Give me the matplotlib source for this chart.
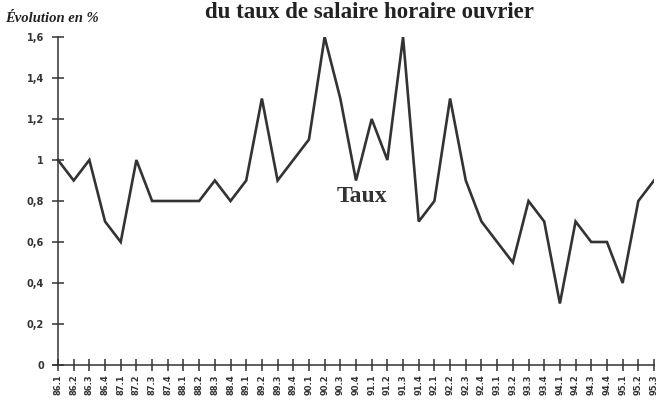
import matplotlib.pyplot as plt

# trimestres 86.1 -> 95.3
trimestres = ['86.1', '86.2', '86.3', '86.4', '87.1', '87.2', '87.3', '87.4',
              '88.1', '88.2', '88.3', '88.4', '89.1', '89.2', '89.3', '89.4',
              '90.1', '90.2', '90.3', '90.4', '91.1', '91.2', '91.3', '91.4',
              '92.1', '92.2', '92.3', '92.4', '93.1', '93.2', '93.3', '93.4',
              '94.1', '94.2', '94.3', '94.4', '95.1', '95.2', '95.3']

# evolution du taux de salaire horaire ouvrier (%)
taux = [1.0, 0.9, 1.0, 0.7, 0.6, 1.0, 0.8, 0.8,
        0.8, 0.8, 0.9, 0.8, 0.9, 1.3, 0.9, 1.0,
        1.1, 1.6, 1.3, 0.9, 1.2, 1.0, 1.6, 0.7,
        0.8, 1.3, 0.9, 0.7, 0.6, 0.5, 0.8, 0.7,
        0.3, 0.7, 0.6, 0.6, 0.4, 0.8, 0.9]

yticks = [0, 0.2, 0.4, 0.6, 0.8, 1.0, 1.2, 1.4, 1.6]
ylabels = ['0', '0,2', '0,4', '0,6', '0,8', '1', '1,2', '1,4', '1,6']

fig = plt.figure(figsize=(6.58, 4.01), dpi=100)
ax = fig.add_axes([52.5 / 658, 36 / 401, 601.5 / 658, 328 / 401])

x = range(len(taux))
ax.plot(x, taux, color='#333333', linewidth=1.9, solid_joinstyle='miter')

ax.set_xlim(-0.35, len(taux) - 1)
ax.set_ylim(0, 1.6)
ax.spines['left'].set_position(('data', 0))
ax.spines['right'].set_visible(False)
ax.spines['top'].set_visible(False)
ax.spines['left'].set_color('#333333')
ax.spines['bottom'].set_color('#333333')
ax.spines['left'].set_linewidth(1.1)
ax.spines['bottom'].set_linewidth(1.1)

ax.set_xticks(list(x))
ax.set_xticklabels(trimestres, rotation=90, fontsize=6, fontweight='bold', color='#333333')
ax.set_yticks(yticks)
ax.set_yticklabels(ylabels, fontsize=7, fontweight='bold', color='#333333')
ax.tick_params(axis='both', direction='inout', length=8, width=1.1, color='#333333')
ax.tick_params(axis='y', pad=6)
ax.tick_params(axis='x', pad=3)

fig.text(369 / 658, 1 - 12 / 401, 'du taux de salaire horaire ouvrier',
         ha='center', va='center', fontsize=16.5, fontweight='bold',
         family='Liberation Serif', color='#222222')
fig.text(5 / 658, 1 - 19 / 401, 'Évolution en %', ha='left', va='center',
         fontsize=10.5, fontweight='bold', style='italic',
         family='Liberation Serif', color='#222222')
ax.text(19.4, 0.82, 'Taux', ha='center', va='center', fontsize=17,
        fontweight='bold', family='Liberation Serif', color='#333333')

fig.savefig('out.png', dpi=100)
